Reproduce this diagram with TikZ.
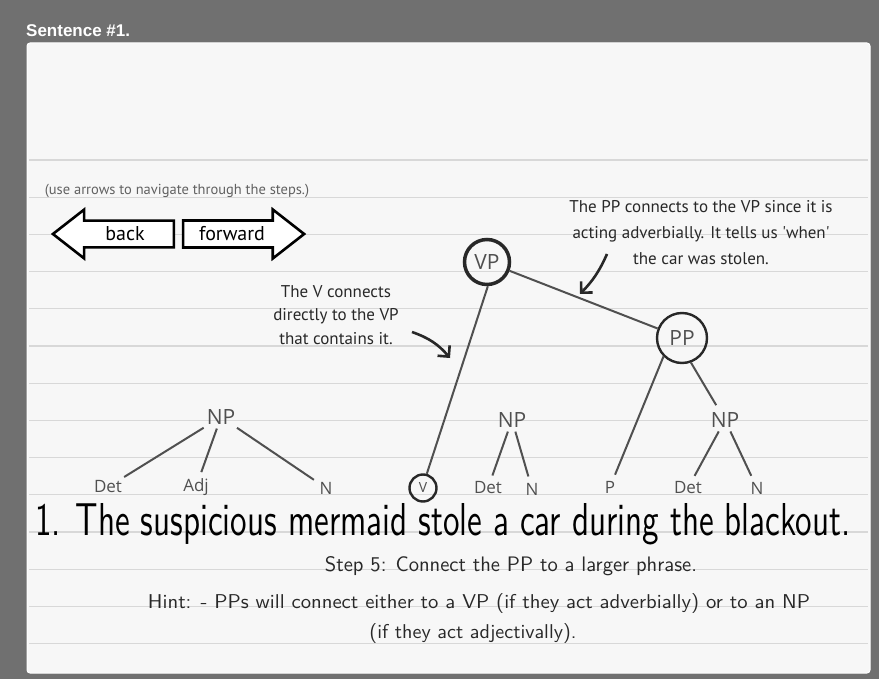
\documentclass[tikz,border=0pt]{standalone}
\usepackage{fontspec}
\usetikzlibrary{arrows.meta,shapes.arrows}
\newfontfamily\handfont{PT Sans}
\newfontfamily\treefont{Open Sans}
\newfontfamily\headfont{Liberation Sans}
\definecolor{woodgray}{RGB}{112,112,112}
\definecolor{paperwhite}{RGB}{247,247,247}
\definecolor{ruleline}{RGB}{216,216,216}
\definecolor{treegray}{RGB}{80,80,80}
\definecolor{inkdark}{RGB}{40,40,40}

\begin{document}
\begin{tikzpicture}[x=1pt,y=-1pt,
    lbl/.style={font=\treefont\fontsize{17}{17}\selectfont,text=treegray,inner sep=0.5pt},
    phr/.style={font=\treefont\fontsize{21}{21}\selectfont,text=treegray,inner sep=2pt},
    ring/.style={circle,draw=inkdark,text=treegray,inner sep=0pt},
    branch/.style={draw=treegray,line width=2pt,shorten >=6pt,shorten <=2pt},
    note/.style={font=\handfont\fontsize{17}{26}\selectfont,text=inkdark,align=center},
    pointer/.style={draw=inkdark,line width=2.6pt,-{Straight Barb[length=8pt,width=16pt]}},
    navbtn/.style={single arrow,draw=black,fill=white,line width=2.6pt,
      font=\handfont\fontsize{20}{20}\selectfont,single arrow head extend=11pt,
      single arrow tip angle=76,inner ysep=5pt,minimum height=121pt}]
  \useasboundingbox (0,0) rectangle (879,679);
  % wood and paper
  \fill[woodgray] (0,0) rectangle (879,679);
  \fill[paperwhite,draw=white,line width=1pt,rounded corners=3pt] (27,43) rectangle (870,673);
  \foreach \k in {0,...,13}
    \draw[ruleline,line width=1.1pt] (29,{160+37.2*\k}) -- (868,{160+37.2*\k});
  \node[anchor=base west,text=white,font=\headfont\bfseries\fontsize{17}{17}\selectfont,inner sep=0pt] (title) at (26,37) {Sentence \#1.};

  % navigation
  \node[font=\handfont\fontsize{14.5}{14.5}\selectfont,text=black!62] (navhint) at (177,191) {(use arrows to navigate through the steps.)};
  \node[navbtn,shape border rotate=180] (back) at (122,234) {\hspace*{6pt}back};
  \node[navbtn] (forward) at (235,234) {forward\hspace*{6pt}};

  % tree
  \node[ring,line width=3.5pt,minimum size=45pt,font=\treefont\fontsize{21}{21}\selectfont] (VP) at (487,262) {VP};
  \node[ring,line width=2.4pt,minimum size=50pt,font=\treefont\fontsize{21}{21}\selectfont] (PP) at (682,338) {PP};
  \node[ring,line width=2.4pt,minimum size=27pt,font=\treefont\fontsize{14}{14}\selectfont] (V) at (423,488) {V};
  \node[phr] (NPl) at (221,417) {NP};
  \node[lbl] (Detl) at (108,487) {Det};
  \node[lbl] (Adj) at (196,487) {Adj};
  \node[lbl] (Nl) at (326,488) {N};
  \node[phr] (NPm) at (512,420) {NP};
  \node[lbl] (Detm) at (488,488) {Det};
  \node[lbl] (Nm) at (532,489) {N};
  \node[phr] (NPr) at (725,420) {NP};
  \node[lbl] (P) at (610,487) {P};
  \node[lbl] (Detr) at (688,488) {Det};
  \node[lbl] (Nr) at (757,488) {N};
  \draw[branch] (NPl) -- (Detl);
  \draw[branch] (NPl) -- (Adj);
  \draw[branch] (NPl) -- (Nl);
  \draw[branch,shorten <=0pt,shorten >=0pt] (VP.-88) -- (V.75);
  \draw[branch,shorten <=0pt,shorten >=0pt] (VP) -- (PP);
  \draw[branch] (NPm) -- (Detm);
  \draw[branch] (NPm) -- (Nm);
  \draw[branch,shorten <=0pt] (PP.225) -- (P);
  \draw[branch,shorten <=0pt] (PP.-70) -- (NPr);
  \draw[branch] (NPr) -- (Detr);
  \draw[branch] (NPr) -- (Nr);

  % notes
  \node[note] (ppnote) at (701,233) {The PP connects to the VP since it is\\acting adverbially. It tells us 'when'\\the car was stolen.};
  \node[note,font=\handfont\fontsize{17}{23.5}\selectfont] (vnote) at (336,315) {The V connects\\directly to the VP\\that contains it.};
  \coordinate (pptail) at (607,254);
  \coordinate (pphead) at (580,294);
  \coordinate (vtail) at (412,332);
  \coordinate (vhead) at (450,358);
  \draw[pointer] (pptail) to[bend left=10] (pphead);
  \draw[pointer] (vtail) to[bend left=15] (vhead);

  % sentence and step text
  \node[anchor=base west,inner sep=0pt] (sentence) at (35,535) {\resizebox{815pt}{32pt}{\sffamily 1. The suspicious mermaid stole a car during the blackout.}};
  \node[anchor=base,inner sep=0pt,text=inkdark] (stepline) at (511,571) {\resizebox{372pt}{15pt}{\sffamily Step 5: Connect the PP to a larger phrase.}};
  \node[anchor=base,inner sep=0pt,text=inkdark] (hintline) at (479,608) {\resizebox{662pt}{15pt}{\sffamily Hint: - PPs will connect either to a VP (if they act adverbially) or to an NP}};
  \node[anchor=base,inner sep=0pt,text=inkdark] (hintmore) at (473,638) {\resizebox{207pt}{15pt}{\sffamily (if they act adjectivally).}};
\end{tikzpicture}
\end{document}
